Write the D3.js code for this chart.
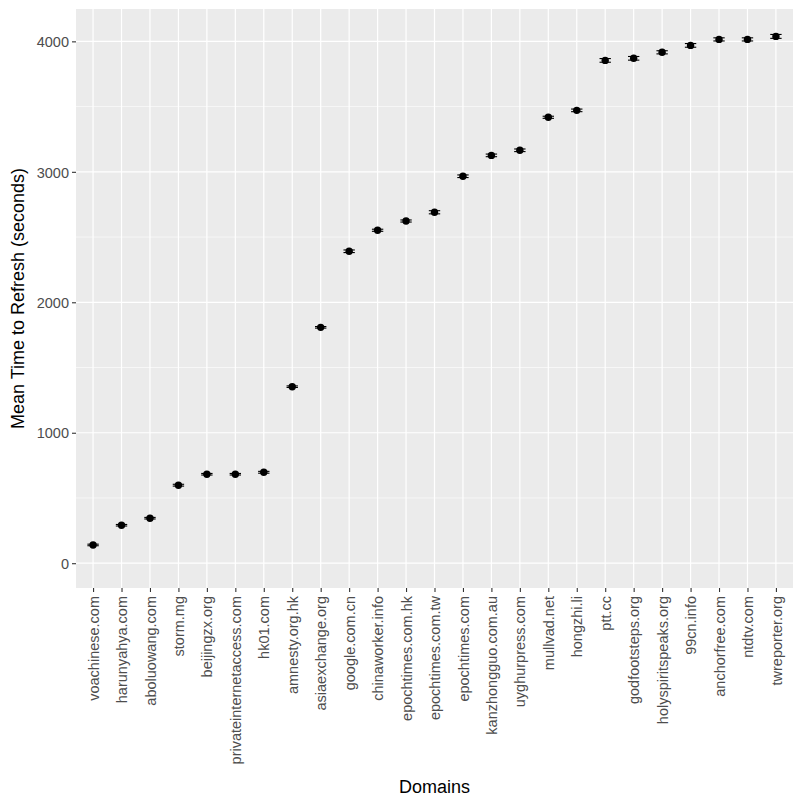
<!DOCTYPE html>
<html>
<head>
<meta charset="utf-8">
<script src="https://cdn.jsdelivr.net/npm/d3@7"></script>
<style>
  body { margin: 0; background: #fff; }
  svg text { font-family: "Liberation Sans", Arial, sans-serif; }
  .tick_label { fill: #4d4d4d; font-size: 14.5px; }
  .axis_title { fill: #000; font-size: 18px; }
</style>
</head>
<body>
<svg id="chart" width="803" height="802"></svg>
<script>
// domains in plotted order
var domains = ['voachinese.com', 'harunyahya.com', 'aboluowang.com', 'storm.mg',
  'beijingzx.org', 'privateinternetaccess.com', 'hk01.com', 'amnesty.org.hk',
  'asiaexchange.org', 'google.com.cn', 'chinaworker.info', 'epochtimes.com.hk',
  'epochtimes.com.tw', 'epochtimes.com', 'kanzhongguo.com.au', 'uyghurpress.com',
  'mullvad.net', 'hongzhi.li', 'ptt.cc', 'godfootsteps.org', 'holyspiritspeaks.org',
  '99cn.info', 'anchorfree.com', 'ntdtv.com', 'twreporter.org'];
// mean seconds
var meanTime = [140, 291, 345, 598, 682, 682, 697, 1353, 1808, 2391, 2552, 2623,
  2690, 2966, 3126, 3165, 3418, 3471, 3854, 3870, 3916, 3969, 4015, 4015, 4038];
// half width of error bar (seconds)
var errTime = [6, 6, 6, 7, 6, 6, 7, 6, 6, 10, 8, 8,
  12, 10, 10, 10, 8, 10, 14, 14, 12, 14, 12, 12, 15];
var yTicks = [0, 1000, 2000, 3000, 4000];
var yMinor = [500, 1500, 2500, 3500];

(function() {
  var svg = d3.select('#chart');
  var pLeft = 76, pRight = 793, pTop = 9, pBottom = 588;

  var x = d3.scalePoint().domain(domains).range([pLeft, pRight]).padding(0.6);
  var y = d3.scaleLinear().domain([-190, 4248]).range([pBottom, pTop]);
  var step = x.step();

  // Panel
  svg.append('rect')
    .attr('x', pLeft).attr('y', pTop)
    .attr('width', pRight - pLeft).attr('height', pBottom - pTop)
    .attr('fill', '#ebebeb');

  // Grid
  svg.selectAll('.minor').data(yMinor).enter().append('line')
    .attr('x1', pLeft).attr('x2', pRight)
    .attr('y1', function(d) { return y(d); }).attr('y2', function(d) { return y(d); })
    .attr('stroke', '#fff').attr('stroke-width', 0.6);
  svg.selectAll('.major_y').data(yTicks).enter().append('line')
    .attr('x1', pLeft).attr('x2', pRight)
    .attr('y1', function(d) { return y(d); }).attr('y2', function(d) { return y(d); })
    .attr('stroke', '#fff').attr('stroke-width', 1.2);
  svg.selectAll('.major_x').data(domains).enter().append('line')
    .attr('x1', function(d) { return x(d); }).attr('x2', function(d) { return x(d); })
    .attr('y1', pTop).attr('y2', pBottom)
    .attr('stroke', '#fff').attr('stroke-width', 1.2);

  // Axes
  var yAxis = svg.append('g')
    .attr('transform', 'translate(' + pLeft + ',0)')
    .call(d3.axisLeft(y).tickValues(yTicks).tickSize(4).tickPadding(3).tickFormat(d3.format('d')));
  var xAxis = svg.append('g')
    .attr('transform', 'translate(0,' + pBottom + ')')
    .call(d3.axisBottom(x).tickSize(4).tickPadding(3));
  [yAxis, xAxis].forEach(function(a) {
    a.select('.domain').remove();
    a.selectAll('.tick line').attr('stroke', '#333').attr('stroke-width', 1.1);
    a.selectAll('.tick text').attr('class', 'tick_label').attr('fill', null);
    a.attr('font-family', null).attr('font-size', null);
  });
  xAxis.selectAll('.tick text')
    .attr('transform', 'rotate(-90)')
    .attr('x', -8).attr('y', 0).attr('dy', '0.35em')
    .attr('text-anchor', 'end');
  yAxis.selectAll('.tick text').attr('dy', '0.36em');

  // Error bars
  var rows = domains.map(function(d, i) { return { name: d, v: meanTime[i], e: errTime[i] }; });
  var capW = step * 0.4;
  var eb = svg.append('g').attr('stroke', '#000').attr('stroke-width', 1.1);
  rows.forEach(function(r) {
    var cx = x(r.name);
    eb.append('line').attr('x1', cx - capW / 2).attr('x2', cx + capW / 2)
      .attr('y1', y(r.v + r.e)).attr('y2', y(r.v + r.e));
    eb.append('line').attr('x1', cx - capW / 2).attr('x2', cx + capW / 2)
      .attr('y1', y(r.v - r.e)).attr('y2', y(r.v - r.e));
    eb.append('line').attr('x1', cx).attr('x2', cx)
      .attr('y1', y(r.v + r.e)).attr('y2', y(r.v - r.e));
  });

  // Points
  svg.selectAll('.pt').data(rows).enter().append('circle')
    .attr('cx', function(d) { return x(d.name); })
    .attr('cy', function(d) { return y(d.v); })
    .attr('r', 3.7)
    .attr('fill', '#000');

  // Titles
  svg.append('text')
    .attr('class', 'axis_title')
    .attr('x', (pLeft + pRight) / 2).attr('y', 793)
    .attr('text-anchor', 'middle')
    .text('Domains');
  svg.append('text')
    .attr('class', 'axis_title')
    .attr('transform', 'translate(24,' + ((pTop + pBottom) / 2) + ') rotate(-90)')
    .attr('text-anchor', 'middle')
    .text('Mean Time to Refresh (seconds)');
})();
</script>
</body>
</html>
